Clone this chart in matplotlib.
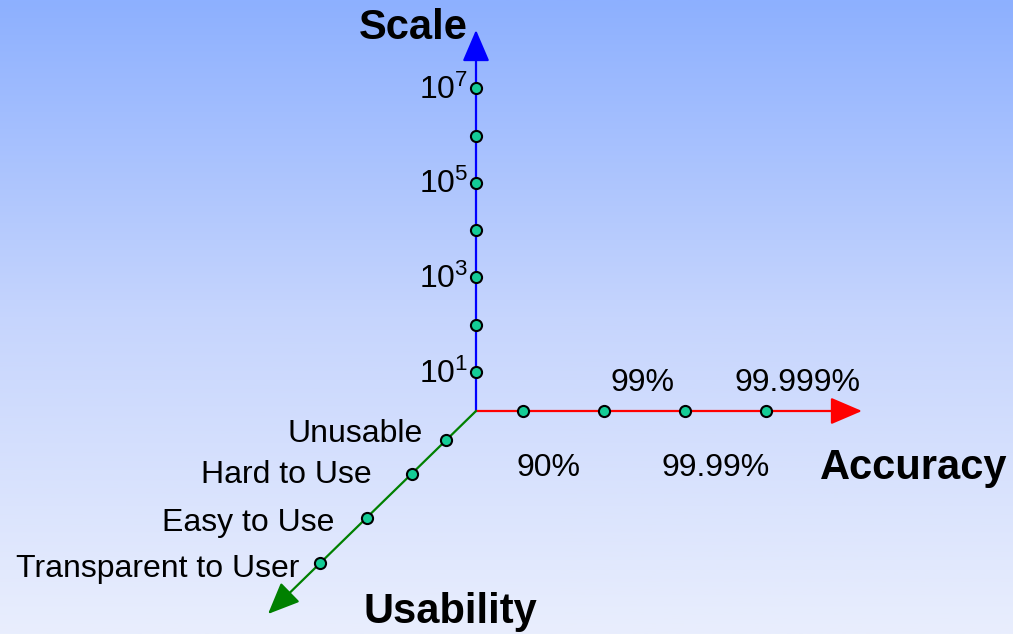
import matplotlib.pyplot as plt
import numpy as np
from matplotlib.colors import LinearSegmentedColormap

plt.rcParams['font.family'] = ['Liberation Sans', 'DejaVu Sans']
plt.rcParams['mathtext.fontset'] = 'custom'
plt.rcParams['mathtext.rm'] = 'Liberation Sans'

# dados dos eixos
escala_expoentes = [1, 2, 3, 4, 5, 6, 7]
escala_rotulos = {1: '10^1', 3: '10^3', 5: '10^5', 7: '10^7'}
precisao_niveis = [1, 2, 3, 4]
precisao_rotulos = ['90%', '99%', '99.99%', '99.999%']
usabilidade_niveis = [1.0, 2.15, 3.65, 5.2]
usabilidade_rotulos = ['Unusable', 'Hard to Use', 'Easy to Use', 'Transparent to User']

W, H = 1013, 634
origem = (476, 411)

fig = plt.figure(figsize=(W / 100, H / 100), dpi=100)
ax = fig.add_axes([0, 0, 1, 1])
ax.set_xlim(0, W)
ax.set_ylim(H, 0)
ax.axis('off')

# fundo em degradê
cmap = LinearSegmentedColormap.from_list('fundo', ['#8db0ff', '#c6d5fd', '#e9eefd'])
grad = np.linspace(0, 1, 256).reshape(-1, 1)
ax.imshow(grad, cmap=cmap, extent=[0, W, H, 0], aspect='auto', zorder=0)

ox, oy = origem
marcador = dict(marker='o', ms=8, mfc='#14cc96', mec='black', mew=1.5, ls='none', zorder=5)
seta = dict(arrowstyle='-|>,head_length=1.4,head_width=0.6', lw=1.6, shrinkA=0, shrinkB=0,
            mutation_scale=14)

# eixo Scale (vertical)
passo_y = 47.3
ys = [oy - 39 - (e - 1) * passo_y for e in escala_expoentes]
ax.annotate('', xy=(ox, 30), xytext=(ox, oy), arrowprops=dict(seta, color='#0000ff'), zorder=3)
ax.plot([ox] * len(ys), ys, **marcador)
for e, y in zip(escala_expoentes, ys):
    if e in escala_rotulos:
        ax.text(ox - 8, y + 2, r'$\mathregular{' + escala_rotulos[e] + '}$', fontsize=23,
                ha='right', va='center')

# eixo Accuracy (horizontal)
passo_x = 81
xs = [ox + 47 + (n - 1) * passo_x for n in precisao_niveis]
ax.annotate('', xy=(862, oy), xytext=(ox, oy), arrowprops=dict(seta, color='#ff0000'), zorder=3)
ax.plot(xs, [oy] * len(xs), **marcador)
desloc_x = [25, 38, 31, 32]
for i, (x, r) in enumerate(zip(xs, precisao_rotulos)):
    y = oy + 57 if i % 2 == 0 else oy - 28
    ax.text(x + desloc_x[i], y, r, fontsize=23, ha='center', va='center')

# eixo Usability (diagonal)
passo_d = 30
pts = [(ox - v * passo_d, oy + v * passo_d * 0.975) for v in usabilidade_niveis]
ax.annotate('', xy=(268, 614), xytext=(ox, oy), arrowprops=dict(seta, color='#008000'), zorder=3)
ax.plot([p[0] for p in pts], [p[1] for p in pts], **marcador)
desloc = [(23, -6), (40, 1), (32, 5), (21, 6)]
for (x, y), r, (dx, dy) in zip(pts, usabilidade_rotulos, desloc):
    ax.text(x - dx, y + dy, r, fontsize=23, ha='right', va='center')

# títulos dos eixos
ax.text(413, 28, 'Scale', fontsize=30, fontweight='bold', ha='center', va='center')
ax.text(914, 468, 'Accuracy', fontsize=30, fontweight='bold', ha='center', va='center')
ax.text(450, 612, 'Usability', fontsize=30, fontweight='bold', ha='center', va='center')

fig.savefig('out.png', dpi=100)
